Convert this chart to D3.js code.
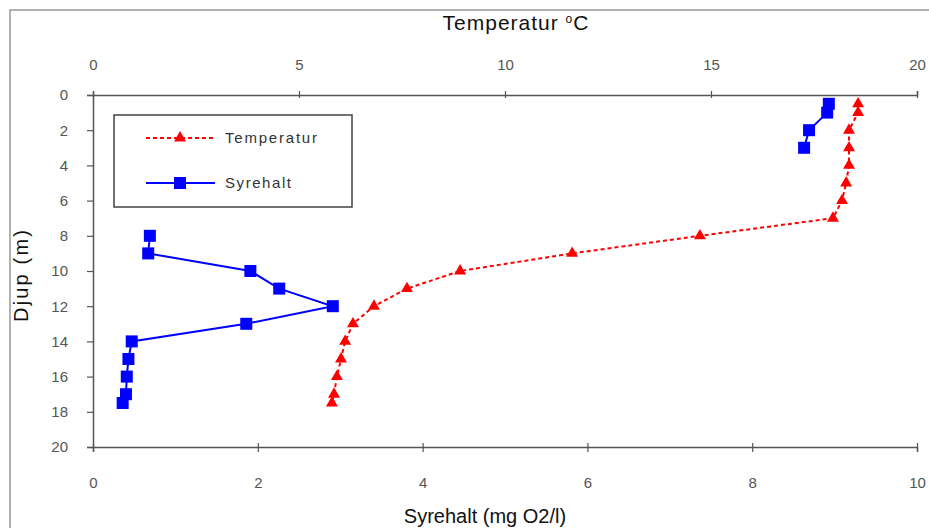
<!DOCTYPE html>
<html>
<head>
<meta charset="utf-8">
<script src="https://cdn.jsdelivr.net/npm/d3@7.9.0/dist/d3.min.js"></script>
<style>
  body { margin: 0; background: #fff; }
  text { font-family: "Liberation Sans", Arial, sans-serif; }
</style>
</head>
<body>
<svg width="929" height="528"></svg>
<script>
// depth (m) for each series
const tempDepth = [0.5, 1, 2, 3, 4, 5, 6, 7, 8, 9, 10, 11, 12, 13, 14, 15, 16, 17, 17.5];
const tempValues = [18.57, 18.57, 18.35, 18.35, 18.35, 18.28, 18.18, 17.96, 14.73, 11.63, 8.91, 7.62, 6.82, 6.31, 6.12, 6.02, 5.92, 5.85, 5.8];

const oxyDepth = [0.5, 1, 2, 3, 4, 5, 6, 7, 8, 9, 10, 11, 12, 13, 14, 15, 16, 17, 17.5];
const oxyValues = [8.93, 8.91, 8.69, 8.63, null, null, null, null, 0.69, 0.67, 1.91, 2.26, 2.91, 1.86, 0.47, 0.43, 0.41, 0.40, 0.36];

const tempTicks = [0, 5, 10, 15, 20];
const oxyTicks = [0, 2, 4, 6, 8, 10];
const depthTicks = [0, 2, 4, 6, 8, 10, 12, 14, 16, 18, 20];

const svg = d3.select("svg");
const plotL = 93, plotR = 917, plotT = 95, plotB = 447;

// outer frame
svg.append("rect")
  .attr("x", 10).attr("y", 10)
  .attr("width", 940).attr("height", 540)
  .attr("fill", "#fff")
  .attr("stroke", "#999").attr("stroke-width", 1.5);

const xT = d3.scaleLinear().domain([0, 20]).range([plotL, plotR]);
const xO = d3.scaleLinear().domain([0, 10]).range([plotL, plotR]);
const y = d3.scaleLinear().domain([0, 20]).range([plotT, plotB]);

function styleAxis(g) {
  g.select(".domain").attr("stroke", "#555").attr("stroke-width", 1.5);
  g.selectAll(".tick line").attr("stroke", "#555").attr("stroke-width", 1.2);
  g.selectAll(".tick text")
    .attr("fill", "#555")
    .style("font-size", "15px")
    .style("font-family", "'Liberation Sans', Arial, sans-serif");
}

// top axis: temperature
const gTop = svg.append("g")
  .attr("transform", `translate(0,${plotT})`)
  .call(d3.axisTop(xT).tickValues(tempTicks).tickSizeOuter(0).tickSize(4).tickPadding(21))
  .call(styleAxis);
gTop.selectAll(".tick line").attr("y1", 3);

// bottom axis: oxygen
const gBot = svg.append("g")
  .attr("transform", `translate(0,${plotB})`)
  .call(d3.axisBottom(xO).tickValues(oxyTicks).tickSizeOuter(0).tickSize(5).tickPadding(25))
  .call(styleAxis);
gBot.selectAll(".tick line").attr("y1", -4);

// left axis: depth
svg.append("g")
  .attr("transform", `translate(${plotL},0)`)
  .call(d3.axisLeft(y).tickValues(depthTicks).tickSizeOuter(0).tickSize(6).tickPadding(19))
  .call(styleAxis);

// axis titles
const title = svg.append("text")
  .attr("x", 516).attr("y", 30)
  .attr("text-anchor", "middle")
  .style("font-size", "21px")
  .style("letter-spacing", "1px")
  .attr("fill", "#111");
title.append("tspan").text("Temperatur ");
title.append("tspan").attr("dy", -7).style("font-size", "12px").text("o");
title.append("tspan").attr("dy", 7).text("C");

svg.append("text")
  .attr("x", 485).attr("y", 523)
  .attr("text-anchor", "middle")
  .style("font-size", "20px")
  .attr("fill", "#111")
  .text("Syrehalt (mg O2/l)");

svg.append("text")
  .attr("transform", "rotate(-90)")
  .attr("x", -276).attr("y", 28)
  .attr("text-anchor", "middle")
  .style("font-size", "20px")
  .attr("textLength", 92)
  .attr("fill", "#111")
  .text("Djup (m)");

// temperature series
const temp = tempDepth.map((d, i) => ({ depth: d, v: tempValues[i] }));
const oxy = oxyDepth.map((d, i) => ({ depth: d, v: oxyValues[i] }));

svg.append("path")
  .datum(temp)
  .attr("fill", "none")
  .attr("stroke", "#ff0000")
  .attr("stroke-width", 2)
  .attr("stroke-dasharray", "4,3")
  .attr("d", d3.line().x(d => xT(d.v)).y(d => y(d.depth)));

const tri = d3.symbol().type(d3.symbolTriangle).size(62);
svg.append("g").selectAll("path")
  .data(temp)
  .join("path")
  .attr("transform", d => `translate(${xT(d.v)},${y(d.depth)})`)
  .attr("d", tri)
  .attr("fill", "#ff0000");

// oxygen series
svg.append("path")
  .datum(oxy)
  .attr("fill", "none")
  .attr("stroke", "#0000ff")
  .attr("stroke-width", 2)
  .attr("d", d3.line().defined(d => d.v != null).x(d => xO(d.v)).y(d => y(d.depth)));

svg.append("g").selectAll("rect")
  .data(oxy.filter(d => d.v != null))
  .join("rect")
  .attr("x", d => xO(d.v) - 6)
  .attr("y", d => y(d.depth) - 6)
  .attr("width", 12).attr("height", 12)
  .attr("fill", "#0000ff");

// legend
const lg = svg.append("g");
lg.append("rect")
  .attr("x", 114).attr("y", 115)
  .attr("width", 238).attr("height", 92)
  .attr("fill", "#fff")
  .attr("stroke", "#444").attr("stroke-width", 1.5);

lg.append("line")
  .attr("x1", 146).attr("x2", 215).attr("y1", 138).attr("y2", 138)
  .attr("stroke", "#ff0000").attr("stroke-width", 2).attr("stroke-dasharray", "4,3");
lg.append("path")
  .attr("transform", "translate(180,138)")
  .attr("d", tri)
  .attr("fill", "#ff0000");
lg.append("text")
  .attr("x", 225).attr("y", 143)
  .style("font-size", "15px").attr("fill", "#333")
  .attr("textLength", 92)
  .text("Temperatur");

lg.append("line")
  .attr("x1", 146).attr("x2", 215).attr("y1", 183).attr("y2", 183)
  .attr("stroke", "#0000ff").attr("stroke-width", 2);
lg.append("rect")
  .attr("x", 174).attr("y", 177).attr("width", 12).attr("height", 12)
  .attr("fill", "#0000ff");
lg.append("text")
  .attr("x", 225).attr("y", 188)
  .style("font-size", "15px").attr("fill", "#333")
  .attr("textLength", 66)
  .text("Syrehalt");
</script>
</body>
</html>
